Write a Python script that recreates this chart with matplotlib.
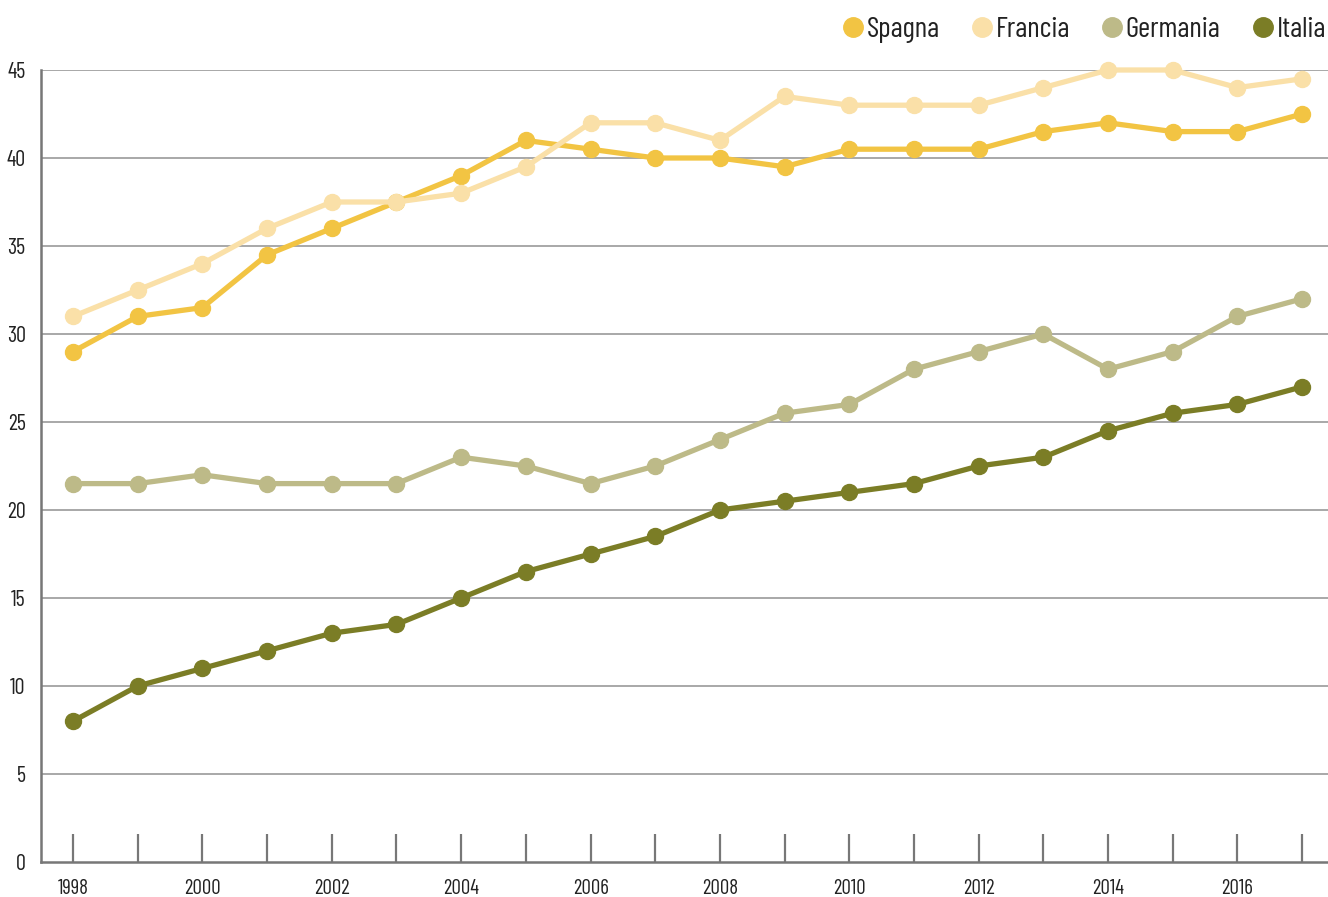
import matplotlib
matplotlib.use("Agg")
import matplotlib.pyplot as plt
from matplotlib import font_manager as fm
from matplotlib.lines import Line2D

years = list(range(1998, 2018))
spagna = [29, 31, 31.5, 34.5, 36, 37.5, 39, 41, 40.5, 40, 40, 39.5, 40.5, 40.5, 40.5, 41.5, 42, 41.5, 41.5, 42.5]
francia = [31, 32.5, 34, 36, 37.5, 37.5, 38, 39.5, 42, 42, 41, 43.5, 43, 43, 43, 44, 45, 45, 44, 44.5]
germania = [21.5, 21.5, 22, 21.5, 21.5, 21.5, 23, 22.5, 21.5, 22.5, 24, 25.5, 26, 28, 29, 30, 28, 29, 31, 32]
italia = [8, 10, 11, 12, 13, 13.5, 15, 16.5, 17.5, 18.5, 20, 20.5, 21, 21.5, 22.5, 23, 24.5, 25.5, 26, 27]

series_names = ["Spagna", "Francia", "Germania", "Italia"]
series_values = [spagna, francia, germania, italia]
colors = ["#F2C443", "#FAE0A8", "#BDBA88", "#7B7D26"]
yticks = [0, 5, 10, 15, 20, 25, 30, 35, 40, 45]
xlabel_years = list(range(1998, 2018, 2))

names = {f.name for f in fm.fontManager.ttflist}
family = "DejaVu Sans"
for cand in ["Barlow Condensed", "Roboto Condensed", "Liberation Sans Narrow", "Open Sans Condensed"]:
    if cand in names:
        family = cand
        break
plt.rcParams["font.family"] = [family]
plt.rcParams["font.stretch"] = "condensed"

fig = plt.figure(figsize=(13.28, 8.97), dpi=100)
ax = fig.add_axes([41/1328, 1 - 862/897, 1 - 41/1328, (862 - 70)/897])

grid_col = "#9a9a9a"
for y in yticks[1:]:
    ax.axhline(y, color=grid_col, lw=1.2, zorder=1)

order = [1, 0, 2, 3]
for i in order:
    ax.plot(years, series_values[i], color=colors[i], lw=3.8, marker="o",
            markersize=11.5, clip_on=False, zorder=3 + i * 0.1,
            solid_joinstyle="round")

ax.set_xlim(1997.505, 2017.4)
ax.set_ylim(0, 45)
ax.set_yticks(yticks)
ax.set_yticklabels([str(v) for v in yticks], fontsize=16, color="#222222")
ax.set_xticks(years)
ax.set_xticklabels([str(y) if y in xlabel_years else "" for y in years], fontsize=15, color="#222222")
ax.tick_params(axis="x", direction="in", length=20, width=1.6, color="#777777", pad=12)
ax.tick_params(axis="y", length=0, pad=11)
for s in ["top", "right"]:
    ax.spines[s].set_visible(False)
for s in ["left", "bottom"]:
    ax.spines[s].set_color("#777777")
    ax.spines[s].set_linewidth(1.8)
    ax.spines[s].set_zorder(2)

leg_handles = [Line2D([], [], color=colors[i], marker="o", linestyle="none", markersize=14)
               for i in range(4)]
leg = fig.legend(leg_handles, series_names, loc="upper right", bbox_to_anchor=(1.016, 1.007),
                 ncol=4, frameon=False, fontsize=21, handletextpad=0.12,
                 columnspacing=1.1, handlelength=0.7, borderpad=0.3)
for t in leg.get_texts():
    t.set_color("#222222")

fig.savefig("out.png", dpi=100, facecolor="white")
